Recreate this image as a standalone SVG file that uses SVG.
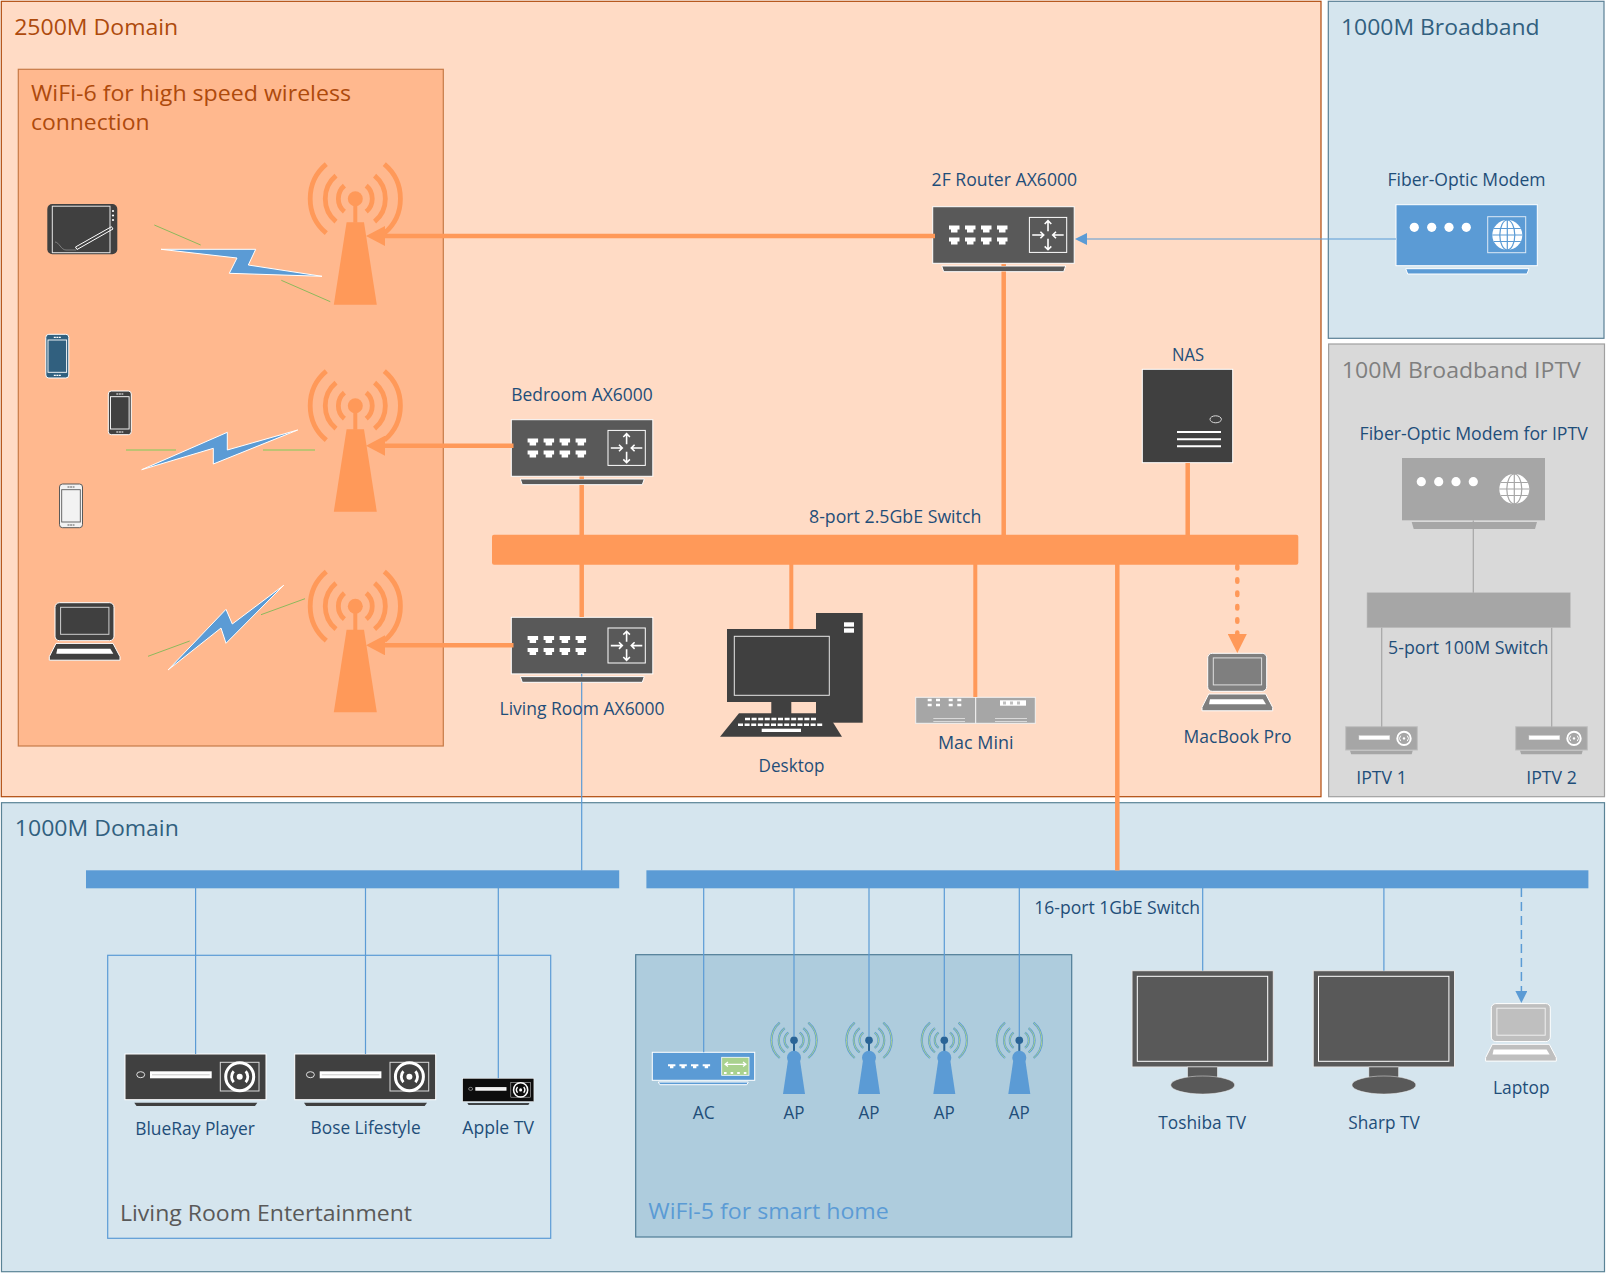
<svg xmlns="http://www.w3.org/2000/svg" xmlns:xlink="http://www.w3.org/1999/xlink" width="1606" height="1273" viewBox="0 0 1606 1273">
<style>
text{font-family:"Open Sans","Noto Sans","Liberation Sans",sans-serif;white-space:pre}
.l{font-size:17.6px;fill:#1F4E79}
.h{font-size:22px}
.orange{fill:none;stroke:#FF9959;stroke-width:4.5}
.thin{fill:none;stroke:#5B9BD5;stroke-width:1.2}
.gray{fill:none;stroke:#A6A6A6;stroke-width:1.2}
.wl{fill:none;stroke:#fff;stroke-width:1.6}
.wb{stroke:#fff;stroke-width:1}
.grn{fill:none;stroke:#8DB85C;stroke-width:1}
.bolt{fill:#5B9BD5;stroke:#fff;stroke-width:1}
</style>
<defs>
<marker id="mO" markerUnits="userSpaceOnUse" markerWidth="19" markerHeight="20" refX="0" refY="10" orient="auto"><path d="M0 0L19 10L0 20Z" fill="#FF9959"/></marker>
<marker id="mOd" markerUnits="userSpaceOnUse" markerWidth="19" markerHeight="19" refX="0" refY="9.5" orient="auto"><path d="M0 0L19 9.5L0 19Z" fill="#FF9959"/></marker>
<marker id="mB" markerUnits="userSpaceOnUse" markerWidth="12" markerHeight="12" refX="0" refY="6" orient="auto"><path d="M0 0L12 6L0 12Z" fill="#5B9BD5"/></marker>
<path id="port" d="M0 0H10.5V4H8.5V7H2V4H0Z" fill="#fff"/>
<path id="aport" d="M0 0H7.4V2H5.4V4H2V2H0Z" fill="#fff"/>
<g id="router">
<rect x="0" y="0" width="141.5" height="56.6" fill="#595959" class="wb"/>
<path d="M9 59.3H133L131 65H11Z" fill="#595959" class="wb"/>
<use href="#port" x="16.3" y="18.7"/><use href="#port" x="32.3" y="18.7"/><use href="#port" x="48.3" y="18.7"/><use href="#port" x="64.3" y="18.7"/>
<use href="#port" x="16.3" y="30.7"/><use href="#port" x="32.3" y="30.7"/><use href="#port" x="48.3" y="30.7"/><use href="#port" x="64.3" y="30.7"/>
<rect x="96.7" y="10.7" width="37.3" height="35" fill="none" class="wb"/>
<path class="wl" d="M115.3 24.5V14M112 17.3L115.3 14L118.6 17.3M115.3 32V43M112 39.7L115.3 43L118.6 39.7M99.5 28.3H111M107.7 25L111 28.3L107.7 31.6M131 28.3H120M123.3 25L120 28.3L123.3 31.6"/>
</g>
<g id="globe">
<circle r="15" fill="#fff"/>
<path fill="none" stroke="currentColor" stroke-width="1.2" d="M0 -15V15M-15 0H15M-13.5 -6.5H13.5M-13.5 6.5H13.5"/>
<ellipse rx="7.5" ry="15" fill="none" stroke="currentColor" stroke-width="1.2"/>
</g>
<g id="disc">
<rect x="0" y="0" width="141" height="45.7" class="wb"/>
<path d="M9.3 48.7H132.3L130 52H11.5Z"/>
<ellipse cx="15.7" cy="20.7" rx="4" ry="3" fill="none" stroke="#E0E0E0" stroke-width="1"/>
<rect x="25" y="17.3" width="61.7" height="7" fill="#fff"/>
<path d="M27 20.8H84.7" stroke="#C8C8C8" stroke-width="1" fill="none"/>
<rect x="95.3" y="8.3" width="38.7" height="28.7" fill="none" stroke="#D9D9D9" stroke-width="1"/>
<circle cx="114.7" cy="22.7" r="14" fill="none" stroke="#fff" stroke-width="3"/>
<circle cx="114.7" cy="22.7" r="3" fill="#fff"/>
<path fill="none" stroke="#fff" stroke-width="2.8" d="M108.7 17.2A8.2 8.2 0 0 0 108.7 28.2M120.7 17.2A8.2 8.2 0 0 1 120.7 28.2"/>
</g>
<g id="stb">
<rect x="0" y="0" width="71.6" height="23.3" fill="#A6A6A6" stroke="#BFBFBF" stroke-width="1"/>
<path d="M4.3 24H67L66 27.5H5.5Z" fill="#A6A6A6"/>
<rect x="13.3" y="9" width="30.7" height="4" fill="#fff" stroke="#ddd" stroke-width=".5"/>
<circle cx="58.3" cy="11.7" r="6.7" fill="none" stroke="#fff" stroke-width="2"/>
<circle cx="58.3" cy="11.7" r="1.2" fill="#fff"/>
<path fill="none" stroke="#fff" stroke-width="1" d="M55 9A4 4 0 0 0 55 14.4M61.6 9A4 4 0 0 1 61.6 14.4"/>
</g>
<g id="laptop">
<rect x="5.7" y="0" width="59" height="38" rx="4.5" class="wb"/>
<rect x="11.3" y="4.6" width="48.3" height="27" fill="none" stroke="#fff" stroke-opacity=".75" stroke-width="1"/>
<path d="M6.7 40.7H63.7L70.7 54V57.5H0V54Z" class="wb"/>
<path d="M8 46H61L64 51H7Z" fill="#fff"/>
</g>
<g id="phone">
<rect x="0" y="0" width="23" height="43.7" rx="3" stroke-width="1"/>
<rect x="2.2" y="5.7" width="18.6" height="32.3" fill="none" stroke-width=".9"/>
<path d="M8 3H15M8 41H15" fill="none" stroke-width="1.2" stroke-dasharray="2 .6"/>
</g>
<g id="ant">
<g fill="none" stroke="#FF9959" stroke-width="4.8">
<path d="M29 -34.5A45 45 0 0 1 29 34.5M-29 -34.5A45 45 0 0 0 -29 34.5"/>
<path d="M19.3 -23A30 30 0 0 1 19.3 23M-19.3 -23A30 30 0 0 0 -19.3 23"/>
<path d="M10.9 -13A17 17 0 0 1 10.9 13M-10.9 -13A17 17 0 0 0 -10.9 13"/>
</g>
<circle r="7.5" fill="#FF9959"/>
<path d="M-2 6H2V24H-2Z" fill="#FF9959"/>
<path d="M-8.7 23.6H8.7L21.5 106H-21.5Z" fill="#FF9959"/>
</g>
<g id="ap">
<g fill="none" stroke="#5B9BD5" stroke-width="2.2">
<path d="M14.3 -17.7A23 23 0 0 1 14.3 17.7M-14.3 -17.7A23 23 0 0 0 -14.3 17.7"/>
<path d="M9.3 -12.2A15.5 15.5 0 0 1 9.3 12.2M-9.3 -12.2A15.5 15.5 0 0 0 -9.3 12.2"/>
<path d="M5.7 -7.6A9.5 9.5 0 0 1 5.7 7.6M-5.7 -7.6A9.5 9.5 0 0 0 -5.7 7.6"/>
</g>
<g fill="none" stroke="#A9D18E" stroke-width="1">
<path d="M14.3 -17.7A23 23 0 0 1 14.3 17.7M-14.3 -17.7A23 23 0 0 0 -14.3 17.7"/>
<path d="M9.3 -12.2A15.5 15.5 0 0 1 9.3 12.2M-9.3 -12.2A15.5 15.5 0 0 0 -9.3 12.2"/>
<path d="M5.7 -7.6A9.5 9.5 0 0 1 5.7 7.6M-5.7 -7.6A9.5 9.5 0 0 0 -5.7 7.6"/>
</g>
<path d="M-1 0H1V12H-1Z" fill="#2A6496"/>
<circle r="3.8" fill="#2A6496"/>
<circle cy="17.4" r="7" fill="#5B9BD5"/>
<path d="M-6 20H6L11 53.7H-11Z" fill="#5B9BD5"/>
</g>
<g id="tv">
<rect x="0" y="0" width="141.3" height="96.3" fill="#595959" stroke="#E8E8E8" stroke-width="1"/>
<rect x="5.3" y="5.6" width="130.4" height="85" fill="none" stroke="#fff" stroke-width="1"/>
<rect x="55.7" y="96.3" width="29.6" height="13" fill="#595959" stroke="#E8E8E8" stroke-width=".5"/>
<ellipse cx="70.7" cy="114.3" rx="32" ry="9" fill="#595959" stroke="#E8E8E8" stroke-width=".5"/>
</g>
</defs>

<g id="panels">
<rect id="domain-2500" x="1.3" y="1.3" width="1319.7" height="795.4" fill="#FFDBC5" stroke="#B04A0C" stroke-width="1.2"/>
<text class="h" x="14.2" y="35" textLength="164" lengthAdjust="spacingAndGlyphs" fill="#AE4A0C">2500M Domain</text>
<rect id="wifi6" x="18.3" y="69.3" width="425" height="676.7" fill="#FFB88E" stroke="#C77A48" stroke-width="1.2"/>
<text class="h" x="31" y="101" textLength="320" lengthAdjust="spacingAndGlyphs" fill="#AE4A0C">WiFi-6 for high speed wireless</text>
<text class="h" x="31" y="130" textLength="118.5" lengthAdjust="spacingAndGlyphs" fill="#AE4A0C">connection</text>
<rect id="broadband" x="1328.3" y="1.3" width="275.7" height="337" fill="#D5E5EE" stroke="#5A7F95" stroke-width="1.2"/>
<text class="h" x="1341" y="35.2" textLength="198.5" lengthAdjust="spacingAndGlyphs" fill="#31607F">1000M Broadband</text>
<rect id="iptv" x="1328.6" y="344" width="275.9" height="452.7" fill="#D9D9D9" stroke="#A0A0A0" stroke-width="1.2"/>
<text class="h" x="1341.8" y="377.5" textLength="239" lengthAdjust="spacingAndGlyphs" fill="#7F7F7F">100M Broadband IPTV</text>
<rect id="domain-1000" x="1.5" y="802.7" width="1603" height="469" fill="#D5E5EE" stroke="#5A8396" stroke-width="1.2"/>
<text class="h" x="14.8" y="836.3" textLength="164" lengthAdjust="spacingAndGlyphs" fill="#31607F">1000M Domain</text>
<rect id="living-entertainment" x="107.7" y="955.3" width="443" height="283" fill="none" stroke="#5B9BD5" stroke-width="1.2"/>
<text class="h" x="120" y="1220.5" textLength="292" lengthAdjust="spacingAndGlyphs" fill="#595959">Living Room Entertainment</text>
<rect id="wifi5" x="635.7" y="954.7" width="436" height="282.3" fill="#AECCDD" stroke="#4F7C96" stroke-width="1.2"/>
<text class="h" x="648.3" y="1219.2" textLength="240.5" lengthAdjust="spacingAndGlyphs" fill="#5B9BD5">WiFi-5 for smart home</text>
</g>

<g id="tablet">
<rect x="47.3" y="204" width="70" height="50.3" rx="5" fill="#404040"/>
<rect x="52.3" y="206.2" width="57.7" height="46.5" fill="none" stroke="#E6E6E6" stroke-width="1"/>
<circle cx="113" cy="211" r="1.1" fill="#fff"/><circle cx="113" cy="215.5" r="1.1" fill="#fff"/><circle cx="113" cy="220" r="1.1" fill="#fff"/>
<path d="M75.5 247L111.5 226.7L113 229L77 249.5Z" fill="none" stroke="#fff" stroke-width="1"/>
<path d="M55 242c4 0 6 8 11 8h10" fill="none" stroke="#999" stroke-width=".7"/>
</g>
<g id="phone-1"><use href="#phone" x="45.8" y="334.3" fill="#31607F" stroke="#fff"/></g>
<g id="phone-2"><use href="#phone" x="108.3" y="391" fill="#404040" stroke="#fff"/></g>
<g id="phone-3"><use href="#phone" x="59.5" y="484" fill="#F2F2F2" stroke="#595959"/></g>
<g id="laptop-wifi"><use href="#laptop" x="49.3" y="602.7" fill="#404040"/></g>

<g id="antenna-1"><use href="#ant" x="355.3" y="198.7"/></g>
<g id="antenna-2"><use href="#ant" x="355.3" y="405.7"/></g>
<g id="antenna-3"><use href="#ant" x="355.3" y="606.2"/></g>

<g id="wireless">
<path class="grn" d="M154.3 225L200.7 245M281.3 280.3L330.3 301.7"/>
<path class="bolt" d="M161 249.3H255.7L248.3 265L322 276.3L229.3 273.3L237 258Z"/>
<path class="grn" style="stroke-width:1.5;stroke:#A9C56B" d="M126 450H176M263 450H315"/>
<path class="bolt" d="M141.7 469.7L227.3 432.3V450L297.7 430L213.3 464V448.3Z"/>
<path class="grn" d="M148 656.3L189.7 641M261 614.7L305 598.7"/>
<path class="bolt" d="M168 670L226 609.3L232.3 624L283.7 585.3L226 643.3L221 628Z"/>
</g>

<g id="router-2f"><use href="#router" x="932.7" y="206.7"/>
<text class="l" x="931.6" y="186" textLength="145.5" lengthAdjust="spacingAndGlyphs">2F Router AX6000</text></g>
<g id="router-bedroom"><use href="#router" x="511.3" y="419.7"/>
<text class="l" x="511.2" y="401" textLength="141.5" lengthAdjust="spacingAndGlyphs">Bedroom AX6000</text></g>
<g id="router-living"><use href="#router" x="511.3" y="617.3"/></g>

<g id="nas">
<rect x="1142.3" y="369.3" width="90.4" height="93.4" fill="#404040" class="wb"/>
<ellipse cx="1215.7" cy="419.3" rx="5.7" ry="3.5" fill="none" stroke="#D9D9D9" stroke-width="1"/>
<path d="M1177 432H1221M1177 439.3H1221M1177 446.3H1221" fill="none" stroke="#fff" stroke-width="2"/>
<text class="l" x="1172" y="360.7" textLength="32" lengthAdjust="spacingAndGlyphs">NAS</text>
</g>

<g id="switch-8"><rect x="492" y="534.7" width="806.3" height="30" rx="2" fill="#FF9959"/>
<text class="l" x="809" y="523.3" textLength="172.3" lengthAdjust="spacingAndGlyphs">8-port 2.5GbE Switch</text></g>

<g id="desktop" fill="#404040">
<rect x="816" y="613" width="46.7" height="109.7"/>
<rect x="727" y="629" width="100" height="73"/>
<rect x="734.3" y="636.3" width="95" height="59" fill="#404040" stroke="#E6E6E6" stroke-width="1"/>
<rect x="771.3" y="702" width="20" height="12"/>
<path d="M739 713.3H827.3L842 736.7H720Z"/>
<path d="M745 719H817M738 724.7H823" fill="none" stroke="#fff" stroke-width="2.5" stroke-dasharray="5 1.6"/>
<rect x="761.7" y="728.7" width="39.3" height="3.3" fill="#fff"/>
<rect x="844" y="622.3" width="10" height="4.4" fill="#fff"/><rect x="844" y="628.3" width="10" height="4.4" fill="#fff"/>
<text class="l" x="758.5" y="771.7" textLength="66" lengthAdjust="spacingAndGlyphs">Desktop</text>
</g>

<g id="mac-mini">
<rect x="915.7" y="697.3" width="60" height="26" fill="#A6A6A6" stroke="#F2F2F2" stroke-width="1"/>
<rect x="975.7" y="697.3" width="59.6" height="26" fill="#A6A6A6" stroke="#F2F2F2" stroke-width="1"/>
<path d="M927.7 700H931.7M936 700H940M948.7 700H952.7M957.3 700H961.3M927.7 705H931.7M936 705H940M948.7 705H952.7M957.3 705H961.3" stroke="#fff" stroke-width="2.4" fill="none"/>
<rect x="1000" y="700.3" width="26" height="5.4" fill="#fff"/>
<path d="M1003 703H1023" stroke="#BFBFBF" stroke-width="3" stroke-dasharray="3 4" fill="none"/>
<path d="M933.3 718.5H965M933.3 721.5H965M995 718.5H1027M995 721.5H1027" stroke="#D9D9D9" stroke-width="1" fill="none"/>
<text class="l" x="938" y="748.7" textLength="75.5" lengthAdjust="spacingAndGlyphs">Mac Mini</text>
</g>

<g id="macbook"><use href="#laptop" x="1202" y="653.3" fill="#7F7F7F"/>
<text class="l" x="1183.6" y="742.7" textLength="108" lengthAdjust="spacingAndGlyphs">MacBook Pro</text></g>

<g id="modem">
<rect x="1396" y="204.7" width="141.3" height="61" fill="#5B9BD5" class="wb"/>
<path d="M1405.7 268.7H1529L1527 274H1407.7Z" fill="#5B9BD5" class="wb"/>
<circle cx="1414.3" cy="227.3" r="4.6" fill="#fff"/><circle cx="1431.7" cy="227.3" r="4.6" fill="#fff"/><circle cx="1449" cy="227.3" r="4.6" fill="#fff"/><circle cx="1466.3" cy="227.3" r="4.6" fill="#fff"/>
<rect x="1487.7" y="216.7" width="38" height="36" fill="none" stroke="#DCE9F5" stroke-width="1"/>
<use href="#globe" x="1507.3" y="235" style="color:#5B9BD5"/>
<text class="l" x="1387.5" y="186" textLength="158" lengthAdjust="spacingAndGlyphs">Fiber-Optic Modem</text>
</g>

<g id="modem-iptv">
<rect x="1402" y="458" width="143" height="62.3" fill="#A6A6A6"/>
<path d="M1411.7 522H1537L1535 529H1413.7Z" fill="#A6A6A6"/>
<circle cx="1421.3" cy="481.7" r="4.6" fill="#fff"/><circle cx="1438.7" cy="481.7" r="4.6" fill="#fff"/><circle cx="1456" cy="481.7" r="4.6" fill="#fff"/><circle cx="1473.3" cy="481.7" r="4.6" fill="#fff"/>
<use href="#globe" x="1514.3" y="489" style="color:#A6A6A6"/>
<text class="l" x="1359.5" y="440" textLength="228.3" lengthAdjust="spacingAndGlyphs">Fiber-Optic Modem for IPTV</text>
</g>

<g id="switch-5"><rect x="1367" y="592.7" width="203.3" height="35" fill="#A6A6A6" stroke="#BFBFBF" stroke-width=".6"/>
<text class="l" x="1388" y="653.8" textLength="160.5" lengthAdjust="spacingAndGlyphs">5-port 100M Switch</text></g>
<g id="iptv-1"><use href="#stb" x="1345.7" y="726.7"/>
<text class="l" x="1356.3" y="783.5" textLength="50.5" lengthAdjust="spacingAndGlyphs">IPTV 1</text></g>
<g id="iptv-2"><use href="#stb" x="1515.7" y="726.7"/>
<text class="l" x="1526.3" y="783.5" textLength="50.5" lengthAdjust="spacingAndGlyphs">IPTV 2</text></g>

<g id="switch-living"><rect x="86" y="870.3" width="533.2" height="18" fill="#5B9BD5"/></g>
<g id="switch-16"><rect x="646.4" y="870.3" width="942" height="18" fill="#5B9BD5"/>
<text class="l" x="1034.3" y="914" textLength="165.8" lengthAdjust="spacingAndGlyphs">16-port 1GbE Switch</text></g>

<g id="blueray"><use href="#disc" x="125" y="1054" fill="#404040"/>
<text class="l" x="135.2" y="1135" textLength="119.8" lengthAdjust="spacingAndGlyphs">BlueRay Player</text></g>
<g id="bose"><use href="#disc" x="294.7" y="1054" fill="#404040"/>
<text class="l" x="310.6" y="1134" textLength="110" lengthAdjust="spacingAndGlyphs">Bose Lifestyle</text></g>
<g id="apple-tv"><use href="#disc" transform="translate(462.7 1078.3) scale(.505 .51)" fill="#0D0D0D"/>
<text class="l" x="462.3" y="1134" textLength="71.7" lengthAdjust="spacingAndGlyphs">Apple TV</text></g>

<g id="ac">
<rect x="652.3" y="1052.3" width="102.4" height="28" fill="#5B9BD5" class="wb"/>
<path d="M658.3 1082H748.3L746.8 1084.7H659.8Z" fill="#5B9BD5" class="wb"/>
<use href="#aport" x="668" y="1064.3"/><use href="#aport" x="679.4" y="1064.3"/><use href="#aport" x="691" y="1064.3"/><use href="#aport" x="702.7" y="1064.3"/>
<rect x="721.7" y="1057.3" width="27.3" height="18" fill="#A9D18E" stroke="#fff" stroke-width=".8"/>
<path d="M725 1064.3H746M728 1062L725 1064.3L728 1066.6M743 1062L746 1064.3L743 1066.6" fill="none" stroke="#fff" stroke-width="1.2"/>
<path d="M724 1073H747" fill="none" stroke="#fff" stroke-width="2" stroke-dasharray="2.6 4"/>
<text class="l" x="692.7" y="1119.2" textLength="22" lengthAdjust="spacingAndGlyphs">AC</text>
</g>
<g id="ap-1"><use href="#ap" x="794" y="1040.3"/><text class="l" x="783.5" y="1119.2" textLength="21" lengthAdjust="spacingAndGlyphs">AP</text></g>
<g id="ap-2"><use href="#ap" x="869" y="1040.3"/><text class="l" x="858.5" y="1119.2" textLength="21" lengthAdjust="spacingAndGlyphs">AP</text></g>
<g id="ap-3"><use href="#ap" x="944.3" y="1040.3"/><text class="l" x="933.8" y="1119.2" textLength="21" lengthAdjust="spacingAndGlyphs">AP</text></g>
<g id="ap-4"><use href="#ap" x="1019.3" y="1040.3"/><text class="l" x="1008.8" y="1119.2" textLength="21" lengthAdjust="spacingAndGlyphs">AP</text></g>

<g id="tv-toshiba"><use href="#tv" x="1132" y="970.7"/>
<text class="l" x="1158.3" y="1129" textLength="87.7" lengthAdjust="spacingAndGlyphs">Toshiba TV</text></g>
<g id="tv-sharp"><use href="#tv" x="1313.2" y="970.7"/>
<text class="l" x="1348.3" y="1129" textLength="71.4" lengthAdjust="spacingAndGlyphs">Sharp TV</text></g>
<g id="laptop-1000"><use href="#laptop" x="1485.6" y="1003.6" fill="#BFBFBF"/>
<text class="l" x="1493" y="1094" textLength="56.5" lengthAdjust="spacingAndGlyphs">Laptop</text></g>

<g id="connectors">
<path class="orange" d="M935 236H385" marker-end="url(#mO)"/>
<path class="orange" d="M513.5 445.7H385" marker-end="url(#mO)"/>
<path class="orange" d="M513.5 645.3H385" marker-end="url(#mO)"/>
<path class="orange" d="M1003.7 264V266M1003.7 271.5V535"/>
<path class="orange" d="M581.7 476.5V479M581.7 485V535"/>
<path class="orange" d="M581.7 564V617"/>
<path class="orange" d="M1187.7 463V535"/>
<path class="orange" style="stroke-width:4" d="M791.3 564V629"/>
<path class="orange" style="stroke-width:4" d="M975.3 564V697"/>
<path class="orange" d="M1117.3 564V870.5"/>
<path class="orange" d="M1237.3 566V634" stroke-linecap="round" stroke-dasharray="2.5 10.8" marker-end="url(#mOd)"/>
<path class="thin" d="M1396 239H1087" marker-end="url(#mB)"/>
<path class="thin" d="M581.7 674V676.6M581.7 682.3V870.5"/>
<path class="gray" d="M1473.3 520.5V592.7M1381.7 627.7V726.7M1551.7 627.7V726.7"/>
<path class="thin" d="M195.6 888V1054M365.5 888V1054M498.3 888V1078.3"/>
<path class="thin" d="M703.7 888V1052.3M794 888V1037M869 888V1037M944.3 888V1037M1019.3 888V1037M1202.7 888V970.7M1383.9 888V970.7"/>
<path class="thin" style="stroke-width:1.5" stroke-dasharray="9 5" d="M1521.4 888V991" marker-end="url(#mB)"/>
</g>
<g id="labels-over">
<text class="l" x="499.6" y="715" textLength="165" lengthAdjust="spacingAndGlyphs">Living Room AX6000</text>
</g>
</svg>
